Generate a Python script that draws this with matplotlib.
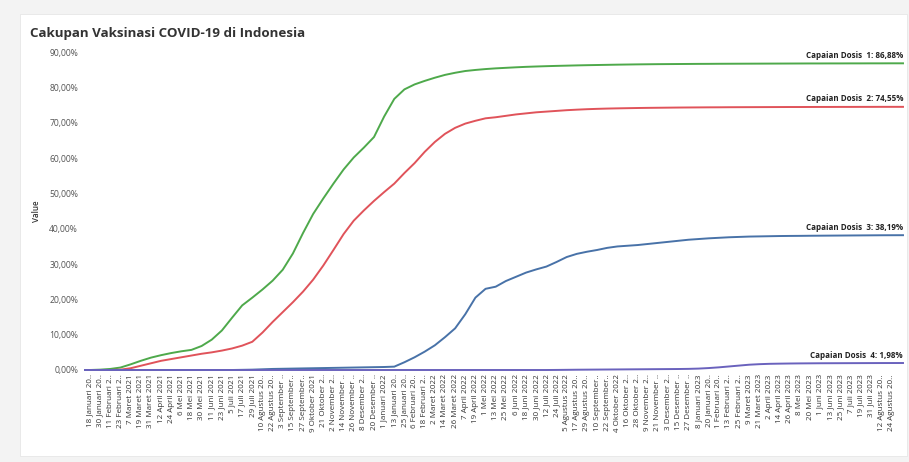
import pandas as pd
import matplotlib.pyplot as plt
from matplotlib.patches import Rectangle

# data: values (%) at each 12-day tick date, plus the first and last day of the series
start_date = '2021-01-12'
end_date = '2023-09-07'
tick_dates = pd.date_range('2021-01-18', periods=80, freq='12D')

tick_labels = [
    '18 Januari 20..', '30 Januari 20..', '11 Februari 2..', '23 Februari 2..', '7 Maret 2021',
    '19 Maret 2021', '31 Maret 2021', '12 April 2021', '24 April 2021', '6 Mei 2021',
    '18 Mei 2021', '30 Mei 2021', '11 Juni 2021', '23 Juni 2021', '5 Juli 2021',
    '17 Juli 2021', '29 Juli 2021', '10 Agustus 20..', '22 Agustus 20..', '3 September ..',
    '15 September..', '27 September..', '9 Oktober 2021', '21 Oktober 2..', '2 November 2..',
    '14 November ..', '26 November ..', '8 Desember 2..', '20 Desember ..', '1 Januari 2022',
    '13 Januari 20..', '25 Januari 20..', '6 Februari 20..', '18 Februari 2..', '2 Maret 2022',
    '14 Maret 2022', '26 Maret 2022', '7 April 2022', '19 April 2022', '1 Mei 2022',
    '13 Mei 2022', '25 Mei 2022', '6 Juni 2022', '18 Juni 2022', '30 Juni 2022',
    '12 Juli 2022', '24 Juli 2022', '5 Agustus 2022', '17 Agustus 20..', '29 Agustus 20..',
    '10 September..', '22 September..', '4 Oktober 2022', '16 Oktober 2..', '28 Oktober 2..',
    '9 November 2..', '21 November ..', '3 Desember 2..', '15 Desember ..', '27 Desember ..',
    '8 Januari 2023', '20 Januari 20..', '1 Februari 20..', '13 Februari 2..', '25 Februari 2..',
    '9 Maret 2023', '21 Maret 2023', '2 April 2023', '14 April 2023', '26 April 2023',
    '8 Mei 2023', '20 Mei 2023', '1 Juni 2023', '13 Juni 2023', '25 Juni 2023',
    '7 Juli 2023', '19 Juli 2023', '31 Juli 2023', '12 Agustus 20..', '24 Agustus 20..',
]

dosis_1 = [0.0,
    0.0, 0.1, 0.3, 0.7, 1.6, 2.6, 3.5, 4.2, 4.8, 5.3,
    5.7, 6.8, 8.6, 11.2, 14.8, 18.3, 20.5, 22.8, 25.3, 28.4,
    33.0, 38.8, 44.2, 48.6, 52.8, 56.8, 60.2, 63.0, 66.0, 71.8,
    76.8, 79.5, 80.9, 81.9, 82.8, 83.6, 84.2, 84.7, 85.0, 85.25,
    85.45, 85.6, 85.75, 85.88, 85.98, 86.07, 86.15, 86.22, 86.29, 86.35,
    86.4, 86.45, 86.5, 86.54, 86.58, 86.61, 86.64, 86.66, 86.68, 86.7,
    86.72, 86.73, 86.75, 86.76, 86.77, 86.78, 86.79, 86.8, 86.81, 86.82,
    86.83, 86.84, 86.84, 86.85, 86.85, 86.86, 86.86, 86.87, 86.87, 86.88,
    86.88]

dosis_2 = [0.0,
    0.0, 0.0, 0.0, 0.1, 0.5, 1.2, 1.9, 2.6, 3.1, 3.6,
    4.1, 4.6, 5.0, 5.5, 6.1, 6.9, 8.0, 10.6, 13.6, 16.4,
    19.2, 22.2, 25.6, 29.6, 34.0, 38.5, 42.3, 45.2, 47.9, 50.4,
    52.8, 55.8, 58.6, 61.8, 64.6, 66.9, 68.6, 69.8, 70.6, 71.3,
    71.6, 72.0, 72.4, 72.7, 73.0, 73.2, 73.4, 73.6, 73.75, 73.88,
    73.98, 74.06, 74.12, 74.17, 74.22, 74.26, 74.29, 74.32, 74.35, 74.37,
    74.39, 74.41, 74.42, 74.44, 74.45, 74.46, 74.47, 74.48, 74.49, 74.5,
    74.5, 74.51, 74.52, 74.52, 74.53, 74.53, 74.54, 74.54, 74.55, 74.55,
    74.55]

dosis_3 = [0.0,
    0.0, 0.0, 0.0, 0.0, 0.0, 0.0, 0.0, 0.0, 0.0, 0.0,
    0.0, 0.0, 0.0, 0.0, 0.0, 0.05, 0.1, 0.2, 0.3, 0.35,
    0.4, 0.45, 0.5, 0.55, 0.6, 0.65, 0.7, 0.75, 0.8, 0.85,
    0.95, 2.2, 3.6, 5.2, 7.0, 9.3, 11.8, 15.8, 20.5, 23.0,
    23.6, 25.2, 26.4, 27.6, 28.5, 29.3, 30.6, 32.0, 32.9, 33.5,
    34.0, 34.6, 35.0, 35.2, 35.4, 35.7, 36.0, 36.3, 36.6, 36.9,
    37.1, 37.3, 37.45, 37.6, 37.7, 37.8, 37.85, 37.9, 37.95, 37.98,
    38.0, 38.03, 38.05, 38.07, 38.09, 38.11, 38.13, 38.15, 38.17, 38.18,
    38.19]

dosis_4 = [0.0,
    0.0, 0.0, 0.0, 0.0, 0.0, 0.0, 0.0, 0.0, 0.0, 0.0,
    0.0, 0.0, 0.0, 0.0, 0.0, 0.0, 0.0, 0.0, 0.0, 0.0,
    0.0, 0.0, 0.0, 0.0, 0.0, 0.0, 0.0, 0.0, 0.0, 0.0,
    0.0, 0.0, 0.0, 0.0, 0.0, 0.0, 0.0, 0.0, 0.0, 0.0,
    0.0, 0.0, 0.0, 0.0, 0.0, 0.0, 0.02, 0.05, 0.08, 0.1,
    0.12, 0.14, 0.16, 0.18, 0.2, 0.22, 0.24, 0.26, 0.28, 0.32,
    0.4, 0.55, 0.75, 1.0, 1.25, 1.5, 1.65, 1.75, 1.8, 1.84,
    1.87, 1.89, 1.91, 1.92, 1.93, 1.94, 1.95, 1.96, 1.97, 1.975,
    1.98]

series_names = ['Capaian Dosis  1', 'Capaian Dosis  2', 'Capaian Dosis  3', 'Capaian Dosis  4']
colors = ['#4ea94b', '#e0535a', '#4872a8', '#6a62bd']

dates = pd.DatetimeIndex([pd.Timestamp(start_date)] + list(tick_dates) + [pd.Timestamp(end_date)])

plt.rcParams['font.family'] = ['Open Sans', 'DejaVu Sans']

fig = plt.figure(figsize=(9.09, 4.62), dpi=100)
fig.patch.set_facecolor('#f3f3f3')
fig.add_artist(Rectangle((20 / 909, 1 - 456 / 462), 887 / 909, 442 / 462,
                         transform=fig.transFigure, facecolor='white', edgecolor='#e6e6e6',
                         linewidth=0.6, zorder=0))

ax = fig.add_axes([85 / 909, (462 - 370) / 462, 818 / 909, 317.7 / 462])
ax.set_facecolor('none')

for name, vals, c in zip(series_names, [dosis_1, dosis_2, dosis_3, dosis_4], colors):
    ax.plot(dates, vals, color=c, linewidth=1.4, clip_on=False, zorder=3)
    ax.annotate(f'{name}: {vals[-1]:.2f}%'.replace('.', ','), xy=(dates[-1], vals[-1]),
                xytext=(0, 2.5), textcoords='offset points', ha='right', va='bottom',
                fontsize=5.8, fontweight='bold', color='#222222')

ax.set_xlim(dates[0], dates[-1])
ax.set_ylim(0, 90)
ax.set_yticks(range(0, 91, 10))
ax.set_yticklabels([f'{v:.2f}%'.replace('.', ',') for v in range(0, 91, 10)],
                   fontsize=6.2, color='#555555')
ax.set_xticks(tick_dates)
ax.set_xticklabels(tick_labels, rotation=90, fontsize=5.8, color='#333333')
ax.tick_params(axis='both', length=0, pad=3)
ax.tick_params(axis='y', pad=5)
for s in ax.spines.values():
    s.set_visible(False)

ax.set_ylabel('Value', fontsize=5.8, color='#333333', fontweight='semibold', labelpad=6)

fig.text(30 / 909, 1 - 34 / 462, 'Cakupan Vaksinasi COVID-19 di Indonesia', fontsize=9.6,
         fontweight='bold', color='#333333', va='center', ha='left')

plt.savefig('out.png', dpi=100, facecolor=fig.get_facecolor())
